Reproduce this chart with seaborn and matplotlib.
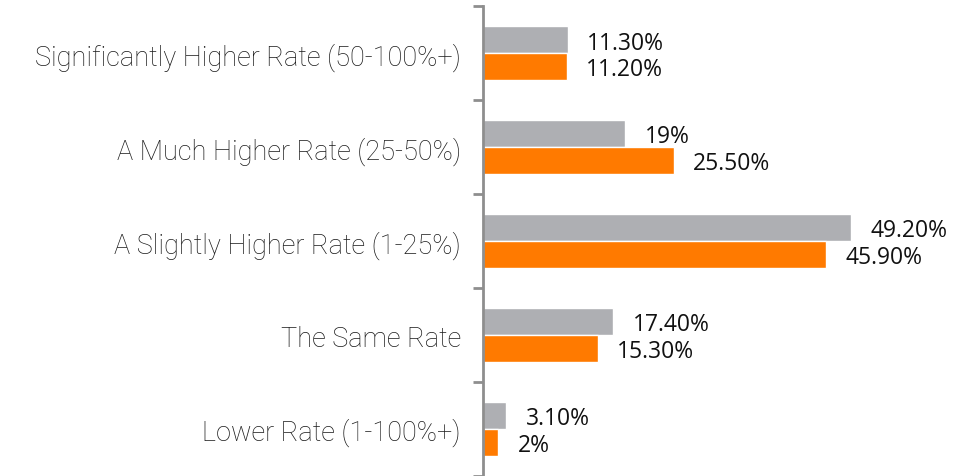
import pandas as pd
import seaborn as sns
import matplotlib.pyplot as plt

CATEGORIES = [
    "Significantly Higher Rate (50-100%+)",
    "A Much Higher Rate (25-50%)",
    "A Slightly Higher Rate (1-25%)",
    "The Same Rate",
    "Lower Rate (1-100%+)",
]
SERIES = ["Series 1", "Series 2"]
GRAY_VALUES = [11.3, 19.0, 49.2, 17.4, 3.1]
ORANGE_VALUES = [11.2, 25.5, 45.9, 15.3, 2.0]

COLORS = ["#AEAFB3", "#FF7A00"]


def fmt(v):
    return f"{v:g}%" if float(v).is_integer() else f"{v:.2f}%"


df = pd.DataFrame({
    "category": CATEGORIES * 2,
    "series": [SERIES[0]] * len(CATEGORIES) + [SERIES[1]] * len(CATEGORIES),
    "value": GRAY_VALUES + ORANGE_VALUES,
})

sns.set_style("white")
plt.rcParams["font.family"] = ["Roboto", "DejaVu Sans"]

fig = plt.figure(figsize=(9.7, 4.77), dpi=100)
ax = fig.add_axes([0.498, 0.0, 0.502, 0.985])

sns.barplot(
    data=df, y="category", x="value", hue="series", order=CATEGORIES,
    hue_order=SERIES, palette=COLORS, orient="h", width=0.57,
    saturation=1, legend=False, ax=ax,
)

# value labels right of each bar
for container in ax.containers:
    for bar in container:
        w = bar.get_width()
        yc = bar.get_y() + bar.get_height() / 2
        ax.annotate(fmt(w), (w, yc), xytext=(14, -2), textcoords="offset points",
                    va="center", ha="left", fontsize=16.5,
                    family=["Open Sans", "DejaVu Sans"], color="#111111")

ax.set_xlim(0, 65.1)
ax.set_ylim(len(CATEGORIES) - 0.5, -0.5)
ax.set_xlabel("")
ax.set_ylabel("")
ax.set_xticks([])
for side in ["top", "right", "bottom"]:
    ax.spines[side].set_visible(False)
ax.spines["left"].set_color("#8E8E8E")
ax.spines["left"].set_linewidth(2)

ax.set_yticks(range(len(CATEGORIES)))
ax.set_yticklabels(CATEGORIES, fontsize=19.5, fontweight="light", color="#1A1A1A")
ax.set_yticks([i - 0.5 for i in range(len(CATEGORIES) + 1)], minor=True)
ax.tick_params(axis="y", which="major", length=0, pad=16)
ax.tick_params(axis="y", which="minor", length=7, width=2, color="#8E8E8E", left=True)

fig.savefig("out.png", dpi=100)
